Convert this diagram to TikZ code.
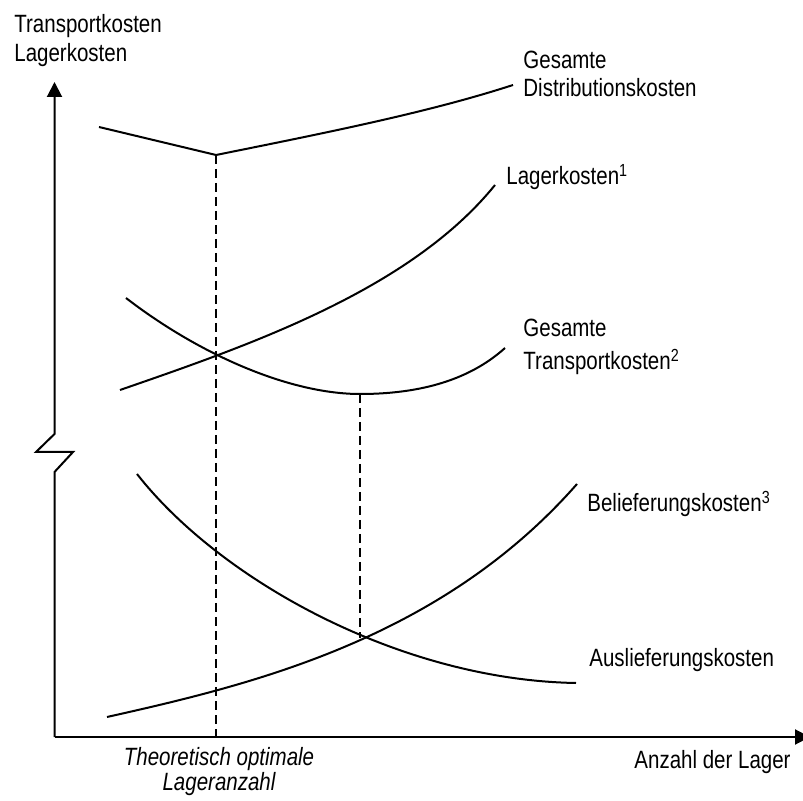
\documentclass[tikz,border=0pt]{standalone}
\usepackage{fontspec}
\setmainfont{Liberation Sans}[FakeStretch=0.82]
\usetikzlibrary{arrows.meta,positioning}

\begin{document}
\begin{tikzpicture}[x=0.5pt,y=-0.5pt,
    lbl/.style={inner sep=0pt, font=\fontsize{12.5}{14.5}\selectfont, align=left},
    axis/.style={line width=1pt, line join=miter, -{Triangle[length=7.5pt,width=7.5pt]}},
    curve/.style={line width=1pt},
    guide/.style={line width=0.7pt, dash pattern=on 4.5pt off 2.5pt}]

  \useasboundingbox (0,0) rectangle (803,801);

  % axes, y axis with break
  \coordinate (o) at (54.5,737);
  \coordinate (ytip) at (54.5,82);
  \coordinate (xtip) at (810,737);
  \draw[axis] (o) -- (54.5,472) -- (73,452) -- (36,452) -- (54.5,434) -- (ytip);
  \draw[axis] (o) -- (xtip);

  % optimum markers
  \coordinate (opt_top) at (216,155);
  \coordinate (opt_foot) at (216,737);
  \coordinate (tr_min) at (360,394);
  \coordinate (cross) at (360,638);
  \draw[guide] (opt_top) -- (opt_foot);
  \draw[guide] (tr_min) -- (cross);

  % Gesamte Distributionskosten
  \draw[curve] (99,127) -- (opt_top)
    .. controls (330,132) and (430,112) .. (513,85);

  % Lagerkosten
  \draw[curve] (120,390) .. controls (250,345) and (410,290) .. (495,185);

  % Gesamte Transportkosten
  \draw[curve] (126,298) .. controls (200,355) and (290,394) .. (tr_min)
    .. controls (430,394) and (475,375) .. (505,348);

  % Belieferungskosten
  \draw[curve] (107,717) .. controls (250,685) and (440,640) .. (577,484);

  % Auslieferungskosten
  \draw[curve] (137,474) .. controls (220,580) and (400,680) .. (576,683);

  % labels
  \node[lbl, anchor=base west] (ylab) at (14,62) {Transportkosten\\Lagerkosten};
  \node[lbl, anchor=base west, font=\fontsize{12.5}{14}\selectfont] (dist) at (523,97) {Gesamte\\Distributionskosten};
  \node[lbl, anchor=base west] (lager) at (506,185) {Lagerkosten\textsuperscript{1}};
  \node[lbl, anchor=base west, font=\fontsize{12.5}{16.5}\selectfont] (trans) at (523,370) {Gesamte\\Transportkosten\textsuperscript{2}};
  \node[lbl, anchor=base west] (belief) at (587,512) {Belieferungskosten\textsuperscript{3}};
  \node[lbl, anchor=base west] (auslief) at (589,666) {Auslieferungskosten};
  \node[lbl, anchor=base east] (xlab) at (791,768) {Anzahl der Lager};
  \node[lbl, anchor=base, align=center, font=\fontsize{12.5}{12.5}\selectfont\itshape] (opt) at (219,790) {Theoretisch optimale\\Lageranzahl};

\end{tikzpicture}
\end{document}
